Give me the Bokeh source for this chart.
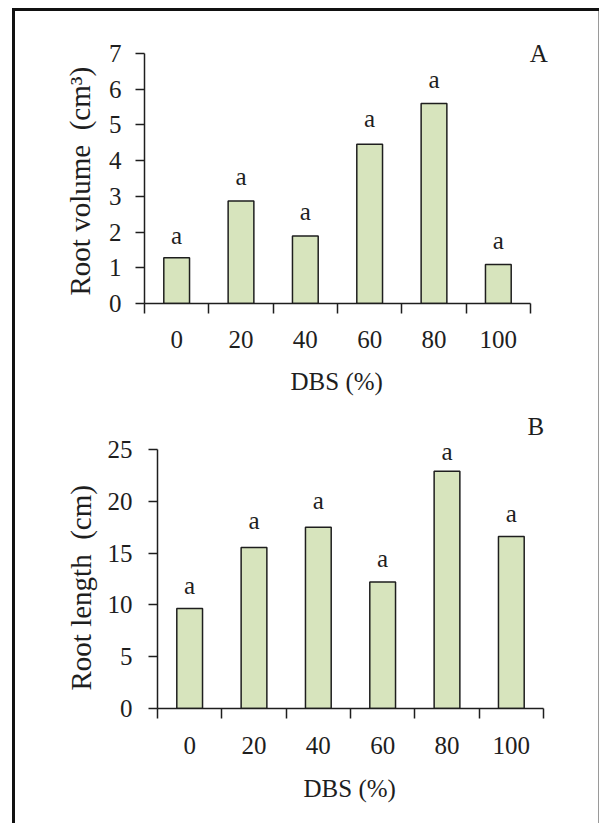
from bokeh.plotting import figure
from bokeh.layouts import column, row
from bokeh.models import Range1d, FixedTicker, Label, ColumnDataSource, Div, Spacer, Title
from bokeh.core.properties import value
from bokeh.embed import file_html
from bokeh.resources import INLINE

# ---- data ----
categories = ["0", "20", "40", "60", "80", "100"]
root_volume = [1.28, 2.87, 1.89, 4.46, 5.60, 1.09]
volume_letters = ["a", "a", "a", "a", "a", "a"]
volume_letter_y = [1.91, 3.55, 2.57, 5.18, 6.26, 1.76]
volume_ticks = [0, 1, 2, 3, 4, 5, 6, 7]

root_length = [9.65, 15.54, 17.5, 12.2, 22.9, 16.6]
length_letters = ["a", "a", "a", "a", "a", "a"]
length_letter_y = [11.9, 18.1, 20.1, 14.5, 24.8, 18.8]
length_ticks = [0, 5, 10, 15, 20, 25]

x_title = "DBS (%)"
FONT = "Liberation Serif"
BAR_FILL = "#d7e4bd"
INK = "#1e1e1e"
FIG_W = 583


def make_panel(vals, letters, letter_y, yticks, ytitle, panel, panel_xy, width,
               height, b_left, b_top, b_bottom, axis_px_h, axis_px_w,
               ylab_standoff, ytitle_standoff, ytitle_offset,
               xlab_standoff, xtitle_standoff, xtitle_offset):
    n = len(categories)
    centers = [i + 0.5 for i in range(n)]
    edges = list(range(n + 1))
    b_right = 5
    frame_h = height - b_top - b_bottom
    frame_w = width - b_left - b_right
    y0, y1 = yticks[0], yticks[-1]
    y_end = y0 + (y1 - y0) * frame_h / axis_px_h
    x_end = n * frame_w / axis_px_w
    p = figure(width=width, height=height, output_backend="svg", toolbar_location=None,
               x_range=Range1d(0, x_end), y_range=Range1d(y0, y_end),
               min_border_left=b_left, min_border_top=b_top,
               min_border_right=b_right, min_border_bottom=b_bottom)
    p.outline_line_color = None
    p.grid.visible = False
    p.background_fill_color = "white"
    p.border_fill_color = "white"

    src = ColumnDataSource(dict(x=centers, top=vals, ly=letter_y, lt=letters))
    p.vbar(x="x", top="top", bottom=0, width=0.4, source=src,
           fill_color=BAR_FILL, line_color=INK, line_width=1.5)
    p.text(x="x", y="ly", text="lt", source=src, text_font=value(FONT),
           text_font_size="25px", text_color=INK, text_align="center",
           text_baseline="middle")

    xa = p.xaxis[0]
    xa.bounds = (0, n)
    xa.ticker = FixedTicker(ticks=centers, minor_ticks=edges)
    xa.major_label_overrides = {c: lab for c, lab in zip(centers, categories)}
    xa.major_tick_out = 0
    xa.major_tick_in = 0
    xa.minor_tick_out = 10
    xa.minor_tick_in = 0
    xa.minor_tick_line_color = INK
    xa.minor_tick_line_width = 1.5
    xa.axis_line_color = INK
    xa.axis_line_width = 1.5
    xa.major_label_text_font = FONT
    xa.major_label_text_font_size = "25px"
    xa.major_label_text_color = INK
    xa.major_label_standoff = xlab_standoff

    ya = p.yaxis[0]
    ya.bounds = (y0, y1)
    ya.ticker = FixedTicker(ticks=yticks, minor_ticks=[])
    ya.major_tick_out = 9
    ya.major_tick_in = 0
    ya.major_tick_line_color = INK
    ya.major_tick_line_width = 1.5
    ya.minor_tick_out = 0
    ya.minor_tick_in = 0
    ya.axis_line_color = INK
    ya.axis_line_width = 1.5
    ya.major_label_text_font = FONT
    ya.major_label_text_font_size = "25px"
    ya.major_label_text_color = INK
    ya.major_label_standoff = ylab_standoff

    p.add_layout(Title(text=ytitle, align="left", offset=ytitle_offset,
                       standoff=ytitle_standoff, text_font=FONT,
                       text_font_size="29px", text_font_style="normal",
                       text_color=INK), "left")
    p.add_layout(Title(text=x_title, align="left", offset=xtitle_offset,
                       standoff=xtitle_standoff, text_font=FONT,
                       text_font_size="25px", text_font_style="normal",
                       text_color=INK), "below")

    p.add_layout(Label(x=panel_xy[0], y=panel_xy[1], text=panel, text_font=FONT,
                       text_font_size="25px", text_color=INK, text_align="center",
                       text_baseline="middle"))
    return p


# A: figure rows 11..410, frame 16..303 ; B: figure rows 410..823, frame 410..708
pA = make_panel(root_volume, volume_letters, volume_letter_y, volume_ticks,
                "Root volume\u00a0 (cm³)", "A", (6.13, 7.0), width=FIG_W,
                height=399, b_left=129, b_top=5, b_bottom=107, axis_px_h=250, axis_px_w=386,
                ylab_standoff=14, ytitle_standoff=20, ytitle_offset=8,
                xlab_standoff=17, xtitle_standoff=30, xtitle_offset=146)
pB = make_panel(root_length, length_letters, length_letter_y, length_ticks,
                "Root length\u00a0 (cm)", "B", (5.88, 27.2), width=FIG_W - 13,
                height=413, b_left=129, b_top=0, b_bottom=115, axis_px_h=259, axis_px_w=386,
                ylab_standoff=16, ytitle_standoff=16, ytitle_offset=18,
                xlab_standoff=18, xtitle_standoff=32, xtitle_offset=146)

top_bar = Div(text="", width=FIG_W + 4, height=3, margin=0,
              styles={"background-color": "#111"})
left_bar = Div(text="", width=3, height=812, margin=0,
               styles={"background-color": "#111"})
right_bar = Div(text="", width=1, height=812, margin=0,
                styles={"background-color": "#9a9a9a"})
charts = column(row(pA, spacing=0),
                row(Spacer(width=13, height=10, margin=0), pB, spacing=0),
                spacing=0)
body = row(left_bar, charts, right_bar, spacing=0)
layout = row(Spacer(width=12, height=10, margin=0),
             column(Spacer(width=10, height=8, margin=0), top_bar, body, spacing=0),
             spacing=0)

open("out.html", "w").write(file_html(layout, INLINE))
